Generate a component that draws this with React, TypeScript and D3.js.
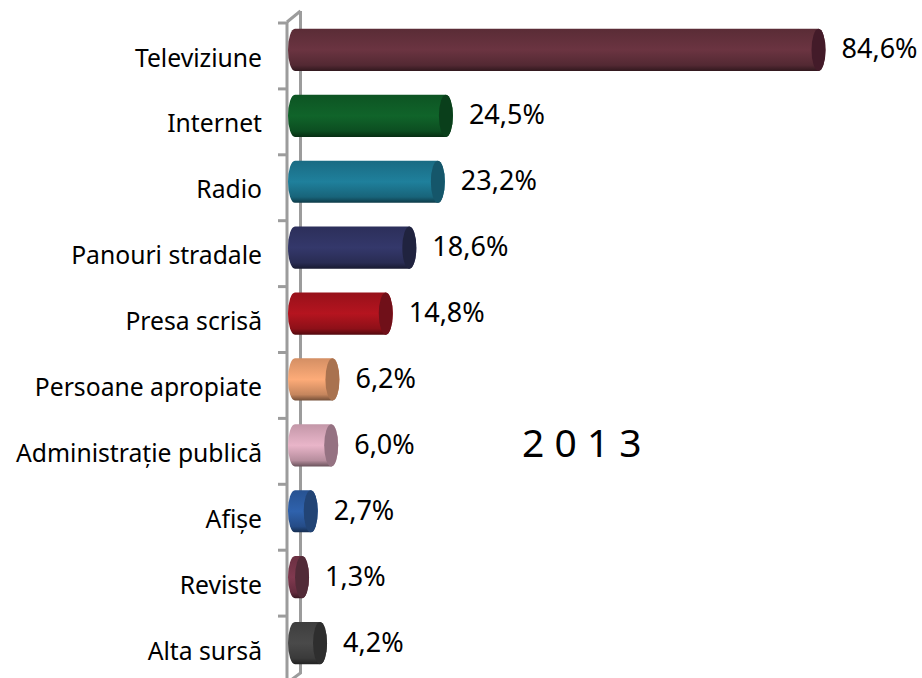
import React from "react";
import * as d3 from "d3";

const categories = ["Televiziune","Internet","Radio","Panouri stradale","Presa scrisă","Persoane apropiate","Administrație publică","Afișe","Reviste","Alta sursă"];
const values = [84.6,24.5,23.2,18.6,14.8,6.2,6.0,2.7,1.3,4.2];
const valueLabels = ["84,6%","24,5%","23,2%","18,6%","14,8%","6,2%","6,0%","2,7%","1,3%","4,2%"];
const colors = ["#6b3441","#10642a","#1f809c","#34386b","#b5141f","#fdab78","#e9b5c9","#2f62ad","#80394f","#4a4a4a"];
const capColors = ["#431b29","#0a3f1b","#15566a","#20233f","#701019","#a9724f","#957282","#224475","#522b38","#2e2e2e"];

const FONT = "'Noto Sans', sans-serif";
const x0 = 288, depth = 13, rx = 7;

export default function App() {
  const y = d3.scaleBand<string>().domain(categories).range([17, 676]).paddingInner(0.36).paddingOuter(0.18);
  const x = d3.scaleLinear().domain([0, 100]).range([x0 + depth, x0 + depth + 620]);
  const step = y.step();
  const ticks = d3.range(categories.length + 1).map(i => 23 + i * step);
  return (
    <svg width={922} height={678} style={{ position: "absolute", left: 0, top: 0, background: "#fff" }}>
      <defs>
        {colors.map((c, i) => {
          const base = d3.color(c)!;
          return (
            <linearGradient key={i} id={`g${i}`} x1="0" y1="0" x2="0" y2="1">
              <stop offset="0" stopColor={base.darker(0.5).formatHex()} />
              <stop offset="0.5" stopColor={c} />
              <stop offset="0.86" stopColor={base.darker(0.7).formatHex()} />
              <stop offset="1" stopColor={base.darker(2.2).formatHex()} />
            </linearGradient>
          );
        })}
      </defs>
      <g fill="none" stroke="#9c9c9c" strokeWidth={3}>
        <path d="M300.5,11V673L287,683" />
        <path d="M287,22L300.5,11" />
        <path d="M287,22V678" />
        {ticks.map((t, i) => <line key={i} x1={278} x2={287} y1={t} y2={t} />)}
      </g>
      {categories.map((c, i) => {
        const top = y(c)!, h = y.bandwidth(), right = x(values[i]), ry = h / 2, cy = top + ry;
        const body = `M${x0 + rx},${top}H${right - rx}A${rx},${ry} 0 0 1 ${right - rx},${top + h}H${x0 + rx}A${rx},${ry} 0 0 1 ${x0 + rx},${top}Z`;
        return (
          <g key={c}>
            <path d={body} fill={`url(#g${i})`} />
            <ellipse cx={right - rx} cy={cy} rx={rx} ry={ry} fill={capColors[i]} />
            <text x={262} y={cy + 8} dy="0.35em" textAnchor="end" fontFamily={FONT} fontSize={24.7} fill="#000">{c}</text>
            <text x={right + 16} y={cy - 1} dy="0.35em" fontFamily={FONT} fontSize={27} fill="#000">{valueLabels[i]}</text>
          </g>
        );
      })}
      <text x={522} y={443} dy="0.35em" fontFamily={FONT} fontSize={39} fill="#000">2 0 1 3</text>
    </svg>
  );
}
